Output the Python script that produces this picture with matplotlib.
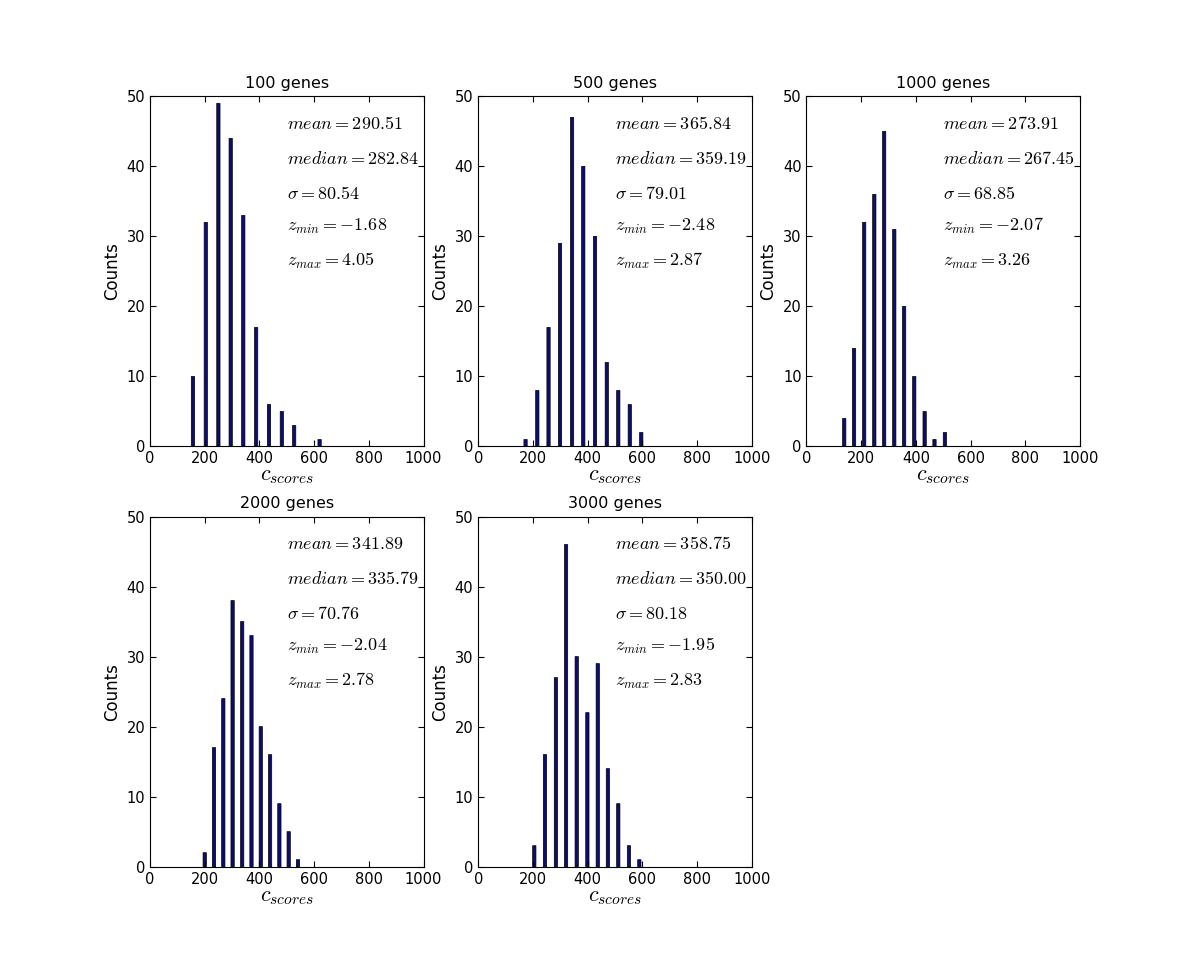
import matplotlib
matplotlib.use('Agg')
import matplotlib.pyplot as plt

plt.rcParams['mathtext.fontset'] = 'cm'
plt.rcParams['font.family'] = ['DejaVu Sans']
plt.rcParams['xtick.direction'] = 'in'
plt.rcParams['ytick.direction'] = 'in'
plt.rcParams['xtick.top'] = True
plt.rcParams['ytick.right'] = True

# 每个面板的标题
titles = ['100 genes', '500 genes', '1000 genes', '2000 genes', '3000 genes']

# 柱子位置（c_scores）和计数
centers_100 = [157, 204, 250, 295, 341, 388, 435, 482, 527, 573, 620]
counts_100 = [10, 32, 49, 44, 33, 17, 6, 5, 3, 0, 1]

centers_500 = [173, 216, 257, 299, 343, 384, 427, 470, 512, 554, 596]
counts_500 = [1, 8, 17, 29, 47, 40, 30, 12, 8, 6, 2]

centers_1000 = [138, 174, 211, 248, 284, 321, 357, 394, 432, 468, 506]
counts_1000 = [4, 14, 32, 36, 45, 31, 20, 10, 5, 1, 2]

centers_2000 = [200, 234, 268, 302, 337, 371, 405, 439, 473, 507, 541]
counts_2000 = [2, 17, 24, 38, 35, 33, 20, 16, 9, 5, 1]

centers_3000 = [205, 244, 284, 321, 360, 399, 437, 474, 512, 551, 589]
counts_3000 = [3, 16, 27, 46, 30, 22, 29, 14, 9, 3, 1]

# 统计量：mean, median, sigma, z_min, z_max
means = ['290.51', '365.84', '273.91', '341.89', '358.75']
medians = ['282.84', '359.19', '267.45', '335.79', '350.00']
sigmas = ['80.54', '79.01', '68.85', '70.76', '80.18']
zmins = ['-1.68', '-2.48', '-2.07', '-2.04', '-1.95']
zmaxs = ['4.05', '2.87', '3.26', '2.78', '2.83']

all_centers = [centers_100, centers_500, centers_1000, centers_2000, centers_3000]
all_counts = [counts_100, counts_500, counts_1000, counts_2000, counts_3000]

fig = plt.figure(figsize=(12, 9.63), dpi=100)
fig.subplots_adjust(left=0.125, right=0.9, bottom=0.1, top=0.9, wspace=0.2, hspace=0.2)

for i in range(5):
    ax = fig.add_subplot(2, 3, i + 1)
    bars = ax.bar(all_centers[i], all_counts[i], width=12, color='#0c0c72',
                  edgecolor='black', linewidth=0.5, align='center')
    for b in bars:
        b.set_snap(False)
    ax.set_xlim(0, 1000)
    ax.set_ylim(0, 50)
    ax.set_xticks([0, 200, 400, 600, 800, 1000])
    ax.set_yticks([0, 10, 20, 30, 40, 50])
    ax.tick_params(labelsize=10.5, length=4)
    ax.set_title(titles[i], fontsize=11.5)
    ax.set_ylabel('Counts', fontsize=12)
    ax.set_xlabel(r'$c_{scores}$', fontsize=16, labelpad=0)

    lines = [r'$mean=' + means[i] + '$',
             r'$median=' + medians[i] + '$',
             r'$\sigma=' + sigmas[i] + '$',
             r'$z_{min}=' + zmins[i] + '$',
             r'$z_{max}=' + zmaxs[i] + '$']
    ys = [45.3, 40.3, 35.3, 30.8, 25.8]
    for t, y in zip(lines, ys):
        ax.text(500, y, t, fontsize=13, ha='left', va='baseline')

fig.savefig('out.png', dpi=100)
